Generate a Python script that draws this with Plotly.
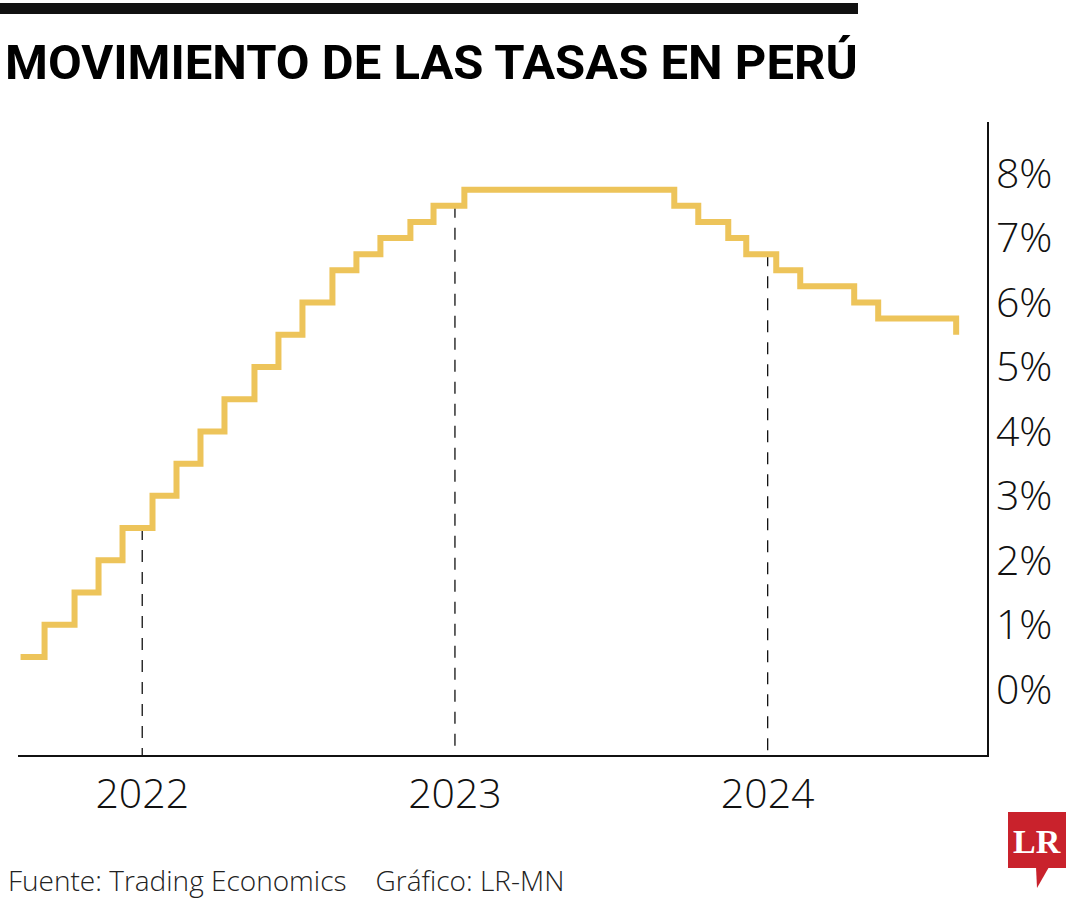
import plotly.graph_objects as go

# ---- data (BCRP reference rate, %) ----
dates = ["2021-08-12", "2021-09-09", "2021-10-14", "2021-11-11", "2021-12-09",
         "2022-01-13", "2022-02-10", "2022-03-10", "2022-04-07", "2022-05-12",
         "2022-06-09", "2022-07-07", "2022-08-11", "2022-09-08", "2022-10-06",
         "2022-11-10", "2022-12-07", "2023-01-12", "2023-09-14", "2023-10-12",
         "2023-11-16", "2023-12-07", "2024-01-11", "2024-02-08", "2024-04-11",
         "2024-05-09", "2024-08-08"]
rates = [0.50, 1.00, 1.50, 2.00, 2.50,
         3.00, 3.50, 4.00, 4.50, 5.00,
         5.50, 6.00, 6.50, 6.75, 7.00,
         7.25, 7.50, 7.75, 7.50, 7.25,
         7.00, 6.75, 6.50, 6.25, 6.00,
         5.75, 5.50]
year_ticks = ["2022-01-01", "2023-01-01", "2024-01-01"]
year_labels = ["2022", "2023", "2024"]
y_ticks = [0, 1, 2, 3, 4, 5, 6, 7, 8]
y_labels = [f"{v}%" for v in y_ticks]

W, H = 1080, 900
L, R, T, B = 18, 987, 122, 755


def px(x):
    return (x - L) / (R - L)


def py(y):
    return (B - y) / (B - T)


def rate_at(d):
    val = None
    for dd, r in zip(dates, rates):
        if dd <= d:
            val = r
    return val


LINE_FONT = "Open Sans, Lato, sans-serif"

fig = go.Figure()
fig.add_trace(go.Scatter(
    x=dates, y=rates, mode="lines", line=dict(shape="hv", color="#EDC45A", width=6),
    hoverinfo="skip", showlegend=False))

shapes = []
for d in year_ticks:
    shapes.append(dict(type="line", xref="x", yref="y", x0=d, x1=d, y0=rate_at(d), y1=-1.02,
                       line=dict(color="#111", width=1.3, dash="12px,10px"), layer="below"))
# top black bar
shapes.append(dict(type="rect", xref="paper", yref="paper", x0=px(0), x1=px(858),
                   y0=py(14), y1=py(3), fillcolor="#111", line=dict(width=0)))
# LR logo
shapes.append(dict(type="rect", xref="paper", yref="paper", x0=px(1008), x1=px(1066),
                   y0=py(868), y1=py(812), fillcolor="#C9222C", line=dict(width=0)))
shapes.append(dict(type="path", xref="paper", yref="paper",
                   path=f"M {px(1036)},{py(867)} L {px(1049)},{py(867)} L {px(1037)},{py(888)} Z",
                   fillcolor="#C9222C", line=dict(width=0)))

annotations = [
    dict(text="<b>MOVIMIENTO DE LAS TASAS EN PERÚ</b>", xref="paper", yref="paper",
         x=px(3), y=py(63), xanchor="left", yanchor="middle", showarrow=False,
         font=dict(family="Roboto, sans-serif", size=49, color="#000")),
    dict(text="Fuente: Trading Economics    Gráfico: LR-MN", xref="paper", yref="paper",
         x=px(6), y=py(880), xanchor="left", yanchor="middle", showarrow=False,
         font=dict(family=LINE_FONT, size=28, color="#222", weight=300)),
    dict(text="<b>LR</b>", xref="paper", yref="paper",
         x=px(1037), y=py(841), xanchor="center", yanchor="middle", showarrow=False,
         font=dict(family="Liberation Serif, DejaVu Serif, serif", size=34, color="#fff")),
]

fig.update_layout(
    width=W, height=H, margin=dict(l=L, r=W - R, t=T, b=H - B),
    paper_bgcolor="white", plot_bgcolor="white",
    shapes=shapes, annotations=annotations,
    xaxis=dict(range=["2021-08-09", "2024-09-13"], tickvals=year_ticks, ticktext=year_labels,
               showgrid=False, zeroline=False, showline=True, linecolor="#111", linewidth=1.5,
               ticks="", ticklabelstandoff=2,
               tickfont=dict(family=LINE_FONT, size=41, color="#111", weight=300)),
    yaxis=dict(range=[-1.02, 8.8], side="right", tickvals=y_ticks, ticktext=y_labels,
               showgrid=False, zeroline=False, showline=True, linecolor="#111", linewidth=1.5,
               ticks="", ticklabelstandoff=-1,
               tickfont=dict(family=LINE_FONT, size=41, color="#111", weight=300)),
)

fig.write_html("out.html", config={"displayModeBar": False},
               post_script="document.body.style.margin='0';document.body.style.overflow='hidden';")
